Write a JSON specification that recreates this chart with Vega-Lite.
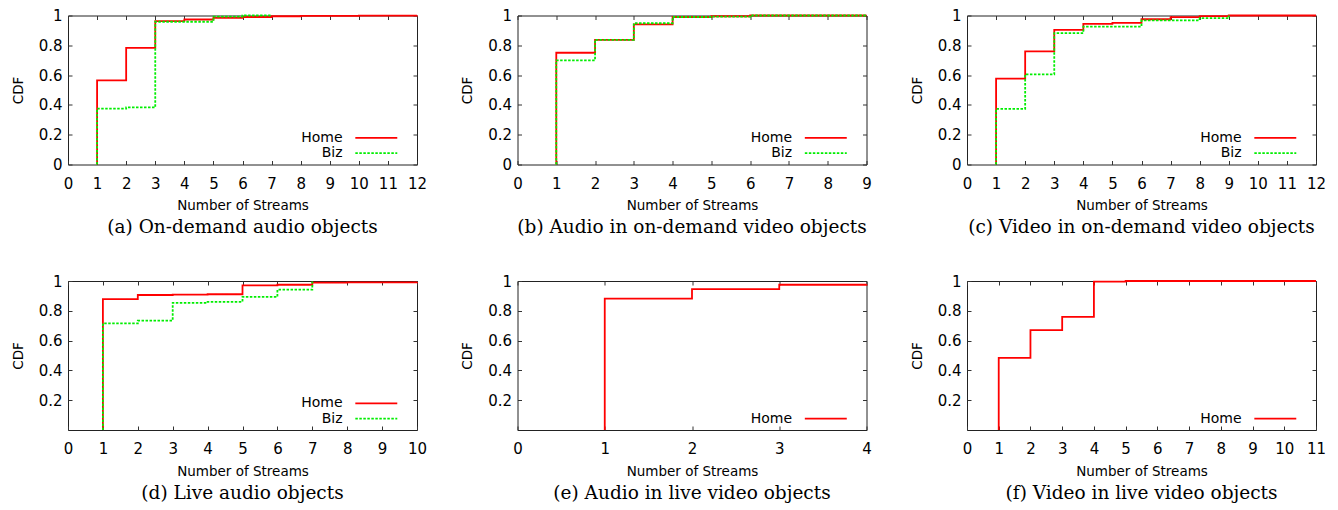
{
  "$schema": "https://vega.github.io/schema/vega-lite/v6.json",
  "padding": {"left": 10, "top": 7.5, "right": 0, "bottom": 0},
  "background": "white",
  "data": {"values": [
    {"panel": "a", "series": "Home", "x": 1, "y": 0},
    {"panel": "a", "series": "Home", "x": 1, "y": 0.565},
    {"panel": "a", "series": "Home", "x": 2, "y": 0.783},
    {"panel": "a", "series": "Home", "x": 3, "y": 0.962},
    {"panel": "a", "series": "Home", "x": 4, "y": 0.973},
    {"panel": "a", "series": "Home", "x": 5, "y": 0.984},
    {"panel": "a", "series": "Home", "x": 6, "y": 0.99},
    {"panel": "a", "series": "Home", "x": 7, "y": 0.995},
    {"panel": "a", "series": "Home", "x": 8, "y": 0.997},
    {"panel": "a", "series": "Home", "x": 10, "y": 0.999},
    {"panel": "a", "series": "Home", "x": 12, "y": 1.0},
    {"panel": "a", "series": "Biz", "x": 1, "y": 0},
    {"panel": "a", "series": "Biz", "x": 1, "y": 0.375},
    {"panel": "a", "series": "Biz", "x": 2, "y": 0.383},
    {"panel": "a", "series": "Biz", "x": 3, "y": 0.958},
    {"panel": "a", "series": "Biz", "x": 5, "y": 0.993},
    {"panel": "a", "series": "Biz", "x": 6, "y": 1.0},
    {"panel": "a", "series": "Biz", "x": 7, "y": 1.0},
    {"panel": "b", "series": "Home", "x": 1, "y": 0},
    {"panel": "b", "series": "Home", "x": 1, "y": 0.75},
    {"panel": "b", "series": "Home", "x": 2, "y": 0.837},
    {"panel": "b", "series": "Home", "x": 3, "y": 0.94},
    {"panel": "b", "series": "Home", "x": 4, "y": 0.99},
    {"panel": "b", "series": "Home", "x": 5, "y": 0.995},
    {"panel": "b", "series": "Home", "x": 6, "y": 1.0},
    {"panel": "b", "series": "Home", "x": 9, "y": 1.0},
    {"panel": "b", "series": "Biz", "x": 1, "y": 0},
    {"panel": "b", "series": "Biz", "x": 1, "y": 0.699},
    {"panel": "b", "series": "Biz", "x": 2, "y": 0.837},
    {"panel": "b", "series": "Biz", "x": 3, "y": 0.948},
    {"panel": "b", "series": "Biz", "x": 4, "y": 0.99},
    {"panel": "b", "series": "Biz", "x": 5, "y": 0.993},
    {"panel": "b", "series": "Biz", "x": 6, "y": 1.0},
    {"panel": "b", "series": "Biz", "x": 9, "y": 1.0},
    {"panel": "c", "series": "Home", "x": 1, "y": 0},
    {"panel": "c", "series": "Home", "x": 1, "y": 0.576},
    {"panel": "c", "series": "Home", "x": 2, "y": 0.759},
    {"panel": "c", "series": "Home", "x": 3, "y": 0.904},
    {"panel": "c", "series": "Home", "x": 4, "y": 0.944},
    {"panel": "c", "series": "Home", "x": 5, "y": 0.951},
    {"panel": "c", "series": "Home", "x": 6, "y": 0.975},
    {"panel": "c", "series": "Home", "x": 7, "y": 0.989},
    {"panel": "c", "series": "Home", "x": 8, "y": 0.996},
    {"panel": "c", "series": "Home", "x": 9, "y": 1.0},
    {"panel": "c", "series": "Home", "x": 12, "y": 1.0},
    {"panel": "c", "series": "Biz", "x": 1, "y": 0},
    {"panel": "c", "series": "Biz", "x": 1, "y": 0.373},
    {"panel": "c", "series": "Biz", "x": 2, "y": 0.605},
    {"panel": "c", "series": "Biz", "x": 3, "y": 0.882},
    {"panel": "c", "series": "Biz", "x": 4, "y": 0.926},
    {"panel": "c", "series": "Biz", "x": 6, "y": 0.967},
    {"panel": "c", "series": "Biz", "x": 8, "y": 0.982},
    {"panel": "c", "series": "Biz", "x": 9, "y": 1.0},
    {"panel": "d", "series": "Home", "x": 1, "y": 0},
    {"panel": "d", "series": "Home", "x": 1, "y": 0.879},
    {"panel": "d", "series": "Home", "x": 2, "y": 0.906},
    {"panel": "d", "series": "Home", "x": 3, "y": 0.908},
    {"panel": "d", "series": "Home", "x": 4, "y": 0.911},
    {"panel": "d", "series": "Home", "x": 5, "y": 0.971},
    {"panel": "d", "series": "Home", "x": 6, "y": 0.975},
    {"panel": "d", "series": "Home", "x": 7, "y": 0.989},
    {"panel": "d", "series": "Home", "x": 8, "y": 0.991},
    {"panel": "d", "series": "Home", "x": 10, "y": 0.993},
    {"panel": "d", "series": "Biz", "x": 1, "y": 0},
    {"panel": "d", "series": "Biz", "x": 1, "y": 0.716},
    {"panel": "d", "series": "Biz", "x": 2, "y": 0.734},
    {"panel": "d", "series": "Biz", "x": 3, "y": 0.853},
    {"panel": "d", "series": "Biz", "x": 4, "y": 0.86},
    {"panel": "d", "series": "Biz", "x": 5, "y": 0.893},
    {"panel": "d", "series": "Biz", "x": 6, "y": 0.942},
    {"panel": "d", "series": "Biz", "x": 7, "y": 0.996},
    {"panel": "e", "series": "Home", "x": 1, "y": 0},
    {"panel": "e", "series": "Home", "x": 1, "y": 0.882},
    {"panel": "e", "series": "Home", "x": 2, "y": 0.946},
    {"panel": "e", "series": "Home", "x": 3, "y": 0.975},
    {"panel": "e", "series": "Home", "x": 4, "y": 0.978},
    {"panel": "f", "series": "Home", "x": 1, "y": 0},
    {"panel": "f", "series": "Home", "x": 1, "y": 0.484},
    {"panel": "f", "series": "Home", "x": 2, "y": 0.67},
    {"panel": "f", "series": "Home", "x": 3, "y": 0.759},
    {"panel": "f", "series": "Home", "x": 4, "y": 0.996},
    {"panel": "f", "series": "Home", "x": 5, "y": 1.0},
    {"panel": "f", "series": "Home", "x": 11, "y": 1.0}
  ]},
  "columns": 3,
  "spacing": {"row": 116.5, "column": 100.5},
  "bounds": "flush",
  "resolve": {"scale": {"color": "independent", "strokeDash": "independent"}},
  "concat": [
    {
      "width": 349, "height": 149,
      "title": "(a) On-demand audio objects",
      "transform": [{"filter": "datum.panel === 'a'"}],
      "layer": [
        {
          "mark": {"type": "line", "interpolate": "step-after", "strokeWidth": 1.8},
          "encoding": {
            "x": {"field": "x", "type": "quantitative", "scale": {"domain": [0, 12], "nice": false}, "axis": {"orient": "bottom", "values": [0,1,2,3,4,5,6,7,8,9,10,11,12], "title": "Number of Streams"}},
            "y": {"field": "y", "type": "quantitative", "scale": {"domain": [0, 1]}, "axis": {"orient": "left", "values": [0,0.2,0.4,0.6,0.8,1], "title": "CDF"}},
            "color": {"field": "series", "type": "nominal", "scale": {"domain": ["Home", "Biz"], "range": ["#ff0000", "#00ee00"]}},
            "strokeDash": {"field": "series", "type": "nominal", "scale": {"domain": ["Home", "Biz"], "range": [[1, 0], [2.5, 1.5]]}},
            "order": [{"field": "x", "type": "quantitative"}, {"field": "y", "type": "quantitative"}]
          }
        },
        {
          "mark": {"type": "point", "opacity": 0},
          "encoding": {
            "x": {"field": "x", "type": "quantitative", "axis": {"orient": "top", "values": [0,1,2,3,4,5,6,7,8,9,10,11,12], "labels": false, "title": null}},
            "y": {"field": "y", "type": "quantitative", "axis": {"orient": "right", "values": [0,0.2,0.4,0.6,0.8,1], "labels": false, "title": null}}
          }
        }
      ]
    },
    {
      "width": 349, "height": 149,
      "title": "(b) Audio in on-demand video objects",
      "transform": [{"filter": "datum.panel === 'b'"}],
      "layer": [
        {
          "mark": {"type": "line", "interpolate": "step-after", "strokeWidth": 1.8},
          "encoding": {
            "x": {"field": "x", "type": "quantitative", "scale": {"domain": [0, 9], "nice": false}, "axis": {"orient": "bottom", "values": [0,1,2,3,4,5,6,7,8,9], "title": "Number of Streams"}},
            "y": {"field": "y", "type": "quantitative", "scale": {"domain": [0, 1]}, "axis": {"orient": "left", "values": [0,0.2,0.4,0.6,0.8,1], "title": "CDF"}},
            "color": {"field": "series", "type": "nominal", "scale": {"domain": ["Home", "Biz"], "range": ["#ff0000", "#00ee00"]}},
            "strokeDash": {"field": "series", "type": "nominal", "scale": {"domain": ["Home", "Biz"], "range": [[1, 0], [2.5, 1.5]]}},
            "order": [{"field": "x", "type": "quantitative"}, {"field": "y", "type": "quantitative"}]
          }
        },
        {
          "mark": {"type": "point", "opacity": 0},
          "encoding": {
            "x": {"field": "x", "type": "quantitative", "axis": {"orient": "top", "values": [0,1,2,3,4,5,6,7,8,9], "labels": false, "title": null}},
            "y": {"field": "y", "type": "quantitative", "axis": {"orient": "right", "values": [0,0.2,0.4,0.6,0.8,1], "labels": false, "title": null}}
          }
        }
      ]
    },
    {
      "width": 349, "height": 149,
      "title": "(c) Video in on-demand video objects",
      "transform": [{"filter": "datum.panel === 'c'"}],
      "layer": [
        {
          "mark": {"type": "line", "interpolate": "step-after", "strokeWidth": 1.8},
          "encoding": {
            "x": {"field": "x", "type": "quantitative", "scale": {"domain": [0, 12], "nice": false}, "axis": {"orient": "bottom", "values": [0,1,2,3,4,5,6,7,8,9,10,11,12], "title": "Number of Streams"}},
            "y": {"field": "y", "type": "quantitative", "scale": {"domain": [0, 1]}, "axis": {"orient": "left", "values": [0,0.2,0.4,0.6,0.8,1], "title": "CDF"}},
            "color": {"field": "series", "type": "nominal", "scale": {"domain": ["Home", "Biz"], "range": ["#ff0000", "#00ee00"]}},
            "strokeDash": {"field": "series", "type": "nominal", "scale": {"domain": ["Home", "Biz"], "range": [[1, 0], [2.5, 1.5]]}},
            "order": [{"field": "x", "type": "quantitative"}, {"field": "y", "type": "quantitative"}]
          }
        },
        {
          "mark": {"type": "point", "opacity": 0},
          "encoding": {
            "x": {"field": "x", "type": "quantitative", "axis": {"orient": "top", "values": [0,1,2,3,4,5,6,7,8,9,10,11,12], "labels": false, "title": null}},
            "y": {"field": "y", "type": "quantitative", "axis": {"orient": "right", "values": [0,0.2,0.4,0.6,0.8,1], "labels": false, "title": null}}
          }
        }
      ]
    },
    {
      "width": 349, "height": 149,
      "title": "(d) Live audio objects",
      "transform": [{"filter": "datum.panel === 'd'"}],
      "layer": [
        {
          "mark": {"type": "line", "interpolate": "step-after", "strokeWidth": 1.8},
          "encoding": {
            "x": {"field": "x", "type": "quantitative", "scale": {"domain": [0, 10], "nice": false}, "axis": {"orient": "bottom", "values": [0,1,2,3,4,5,6,7,8,9,10], "title": "Number of Streams"}},
            "y": {"field": "y", "type": "quantitative", "scale": {"domain": [0, 1]}, "axis": {"orient": "left", "values": [0.2,0.4,0.6,0.8,1], "title": "CDF"}},
            "color": {"field": "series", "type": "nominal", "scale": {"domain": ["Home", "Biz"], "range": ["#ff0000", "#00ee00"]}},
            "strokeDash": {"field": "series", "type": "nominal", "scale": {"domain": ["Home", "Biz"], "range": [[1, 0], [2.5, 1.5]]}},
            "order": [{"field": "x", "type": "quantitative"}, {"field": "y", "type": "quantitative"}]
          }
        },
        {
          "mark": {"type": "point", "opacity": 0},
          "encoding": {
            "x": {"field": "x", "type": "quantitative", "axis": {"orient": "top", "values": [0,1,2,3,4,5,6,7,8,9,10], "labels": false, "title": null}},
            "y": {"field": "y", "type": "quantitative", "axis": {"orient": "right", "values": [0.2,0.4,0.6,0.8,1], "labels": false, "title": null}}
          }
        }
      ]
    },
    {
      "width": 349, "height": 149,
      "title": "(e) Audio in live video objects",
      "transform": [{"filter": "datum.panel === 'e'"}],
      "layer": [
        {
          "mark": {"type": "line", "interpolate": "step-after", "strokeWidth": 1.8},
          "encoding": {
            "x": {"field": "x", "type": "quantitative", "scale": {"domain": [0, 4], "nice": false}, "axis": {"orient": "bottom", "values": [0,1,2,3,4], "title": "Number of Streams"}},
            "y": {"field": "y", "type": "quantitative", "scale": {"domain": [0, 1]}, "axis": {"orient": "left", "values": [0.2,0.4,0.6,0.8,1], "title": "CDF"}},
            "color": {"field": "series", "type": "nominal", "scale": {"domain": ["Home"], "range": ["#ff0000"]}, "legend": {"legendY": 130.6}},
            "order": [{"field": "x", "type": "quantitative"}, {"field": "y", "type": "quantitative"}]
          }
        },
        {
          "mark": {"type": "point", "opacity": 0},
          "encoding": {
            "x": {"field": "x", "type": "quantitative", "axis": {"orient": "top", "values": [0,1,2,3,4], "labels": false, "title": null}},
            "y": {"field": "y", "type": "quantitative", "axis": {"orient": "right", "values": [0.2,0.4,0.6,0.8,1], "labels": false, "title": null}}
          }
        }
      ]
    },
    {
      "width": 349, "height": 149,
      "title": "(f) Video in live video objects",
      "transform": [{"filter": "datum.panel === 'f'"}],
      "layer": [
        {
          "mark": {"type": "line", "interpolate": "step-after", "strokeWidth": 1.8},
          "encoding": {
            "x": {"field": "x", "type": "quantitative", "scale": {"domain": [0, 11], "nice": false}, "axis": {"orient": "bottom", "values": [0,1,2,3,4,5,6,7,8,9,10,11], "title": "Number of Streams"}},
            "y": {"field": "y", "type": "quantitative", "scale": {"domain": [0, 1]}, "axis": {"orient": "left", "values": [0.2,0.4,0.6,0.8,1], "title": "CDF"}},
            "color": {"field": "series", "type": "nominal", "scale": {"domain": ["Home"], "range": ["#ff0000"]}, "legend": {"legendY": 130.6}},
            "order": [{"field": "x", "type": "quantitative"}, {"field": "y", "type": "quantitative"}]
          }
        },
        {
          "mark": {"type": "point", "opacity": 0},
          "encoding": {
            "x": {"field": "x", "type": "quantitative", "axis": {"orient": "top", "values": [0,1,2,3,4,5,6,7,8,9,10,11], "labels": false, "title": null}},
            "y": {"field": "y", "type": "quantitative", "axis": {"orient": "right", "values": [0.2,0.4,0.6,0.8,1], "labels": false, "title": null}}
          }
        }
      ]
    }
  ],
  "config": {
    "view": {"stroke": "#222222", "strokeWidth": 1},
    "axis": {
      "domain": false, "grid": false, "ticks": true, "tickSize": -4, "tickColor": "#333333", "tickWidth": 1,
      "labelFont": "DejaVu Sans", "labelFontSize": 15, "labelColor": "#000000",
      "labelOverlap": false, "labelFlush": false, "format": ".1~f",
      "titleFont": "DejaVu Sans", "titleFontSize": 13.5, "titleFontWeight": "normal", "titleColor": "#000000"
    },
    "axisX": {"labelPadding": 15.5, "titlePadding": 7.5},
    "axisY": {"labelPadding": 10, "titlePadding": 13},
    "title": {"orient": "bottom", "anchor": "middle", "frame": "group", "font": "DejaVu Serif", "fontSize": 18.5, "fontWeight": "normal", "color": "#000000", "offset": 6},
    "legend": {
      "orient": "none", "title": null, "legendX": 227.3, "legendY": 115.3,
      "symbolType": "M-4,0H4", "symbolSize": 110, "symbolStrokeWidth": 1.8,
      "labelAlign": "right", "labelOffset": -40.7, "symbolOffset": 74,
      "rowPadding": 1.4, "padding": 0,
      "labelFont": "DejaVu Sans", "labelFontSize": 14, "labelColor": "#000000"
    }
  }
}
